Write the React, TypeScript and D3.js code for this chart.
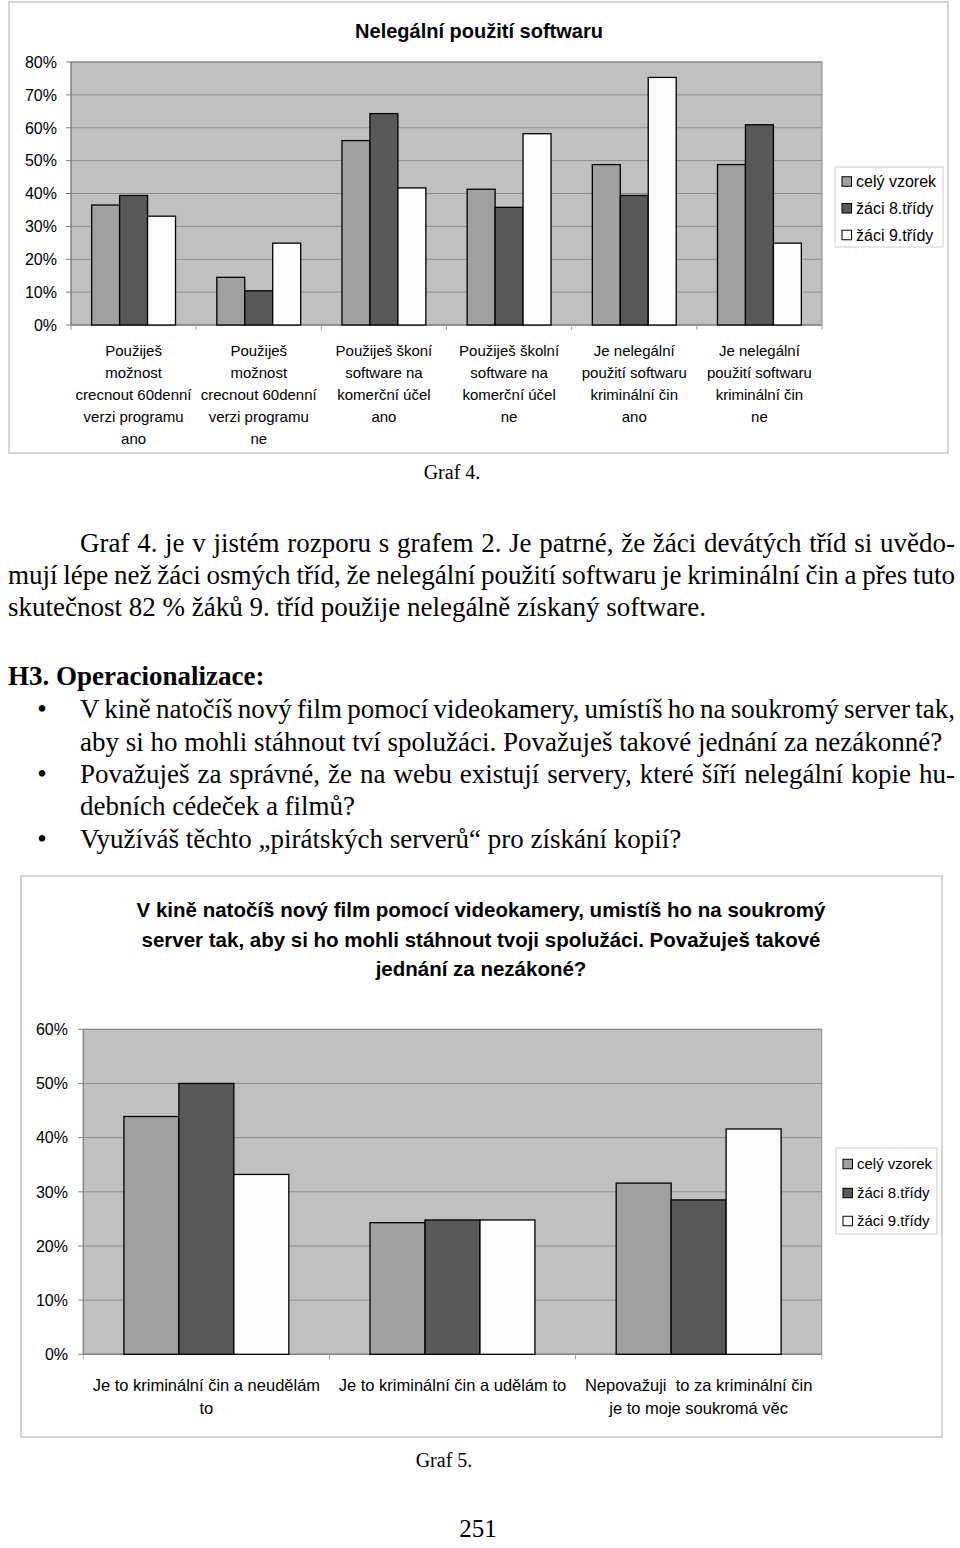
import React, { useEffect, useRef } from "react";
import * as d3 from "d3";

// ---------- data ----------
const SERIES = ["celý vzorek", "žáci 8.třídy", "žáci 9.třídy"];
const SERIES_COLORS = ["#a0a0a0", "#585858", "#fdfdfd"];

const chart1Title = "Nelegální použití softwaru";
const chart1Categories = [
  ["Použiješ", "možnost", "crecnout 60denní", "verzi programu", "ano"],
  ["Použiješ", "možnost", "crecnout 60denní", "verzi programu", "ne"],
  ["Použiješ škoní", "software na", "komerční účel", "ano"],
  ["Použiješ školní", "software na", "komerční účel", "ne"],
  ["Je nelegální", "použití softwaru", "kriminální čin", "ano"],
  ["Je nelegální", "použití softwaru", "kriminální čin", "ne"],
];
const chart1Whole = [0.365, 0.145, 0.561, 0.413, 0.488, 0.488];
const chart1Grade8 = [0.394, 0.104, 0.643, 0.358, 0.394, 0.609];
const chart1Grade9 = [0.331, 0.249, 0.417, 0.582, 0.753, 0.249];
const chart1Ticks = [0, 0.1, 0.2, 0.3, 0.4, 0.5, 0.6, 0.7, 0.8];

const chart2Title = [
  "V kině natočíš nový film pomocí videokamery, umistíš ho na soukromý",
  "server tak, aby si ho mohli stáhnout tvoji spolužáci. Považuješ takové",
  "jednání za nezákoné?",
];
const chart2Categories = [
  ["Je to kriminální čin a neudělám", "to"],
  ["Je to kriminální čin a udělám to"],
  ["Nepovažuji  to za kriminální čin", "je to moje soukromá věc"],
];
const chart2Whole = [0.439, 0.243, 0.316];
const chart2Grade8 = [0.5, 0.248, 0.285];
const chart2Grade9 = [0.332, 0.248, 0.416];
const chart2Ticks = [0, 0.1, 0.2, 0.3, 0.4, 0.5, 0.6];

const caption1 = "Graf 4.";
const caption2 = "Graf 5.";
const pageNumber = "251";

const paragraphLines = [
  { text: "Graf 4. je v jistém rozporu s grafem 2. Je patrné, že žáci devátých tříd si uvědo-", indent: true, justify: true },
  { text: "mují lépe než žáci osmých tříd, že nelegální použití softwaru je kriminální čin a přes tuto", indent: false, justify: true },
  { text: "skutečnost 82 % žáků 9. tříd použije nelegálně získaný software.", indent: false, justify: false },
];
const headingText = "H3. Operacionalizace:";
const bulletLines = [
  { text: "V kině natočíš nový film pomocí videokamery, umístíš ho na soukromý server tak,", bullet: true, justify: true },
  { text: "aby si ho mohli stáhnout tví spolužáci. Považuješ takové jednání za nezákonné?", bullet: false, justify: false },
  { text: "Považuješ za správné, že na webu existují servery, které šíří nelegální kopie hu-", bullet: true, justify: true },
  { text: "debních cédeček a filmů?", bullet: false, justify: false },
  { text: "Využíváš těchto „pirátských serverů“ pro získání kopií?", bullet: true, justify: false },
];

const SANS = "'Liberation Sans', Arial, Helvetica, sans-serif";
const SERIF = "'Liberation Serif', 'Times New Roman', Times, serif";

type ChartOpts = {
  box: [number, number, number, number];
  plot: [number, number, number, number];
  max: number;
  ticks: number[];
  categories: string[][];
  values: number[][];
  yLabelX: number;
  yFont: number;
  xFont: number;
  xLabelY: number;
  xLineH: number;
  legend: { x0: number; y0: number; x1: number; y1: number; rows: number[]; sw: number; tx: number; font: number };
};

function drawChart(svg: d3.Selection<SVGSVGElement, unknown, null, undefined>, o: ChartOpts) {
  const g = svg.append("g");
  g.append("rect")
    .attr("x", o.box[0]).attr("y", o.box[1])
    .attr("width", o.box[2] - o.box[0]).attr("height", o.box[3] - o.box[1])
    .attr("fill", "#fff").attr("stroke", "#c6c6c6").attr("stroke-width", 1.5);

  const n = o.categories.length;
  const x = d3.scaleBand<number>().domain(d3.range(n)).range([o.plot[0], o.plot[2]]).padding(0);
  const bw = x.bandwidth();
  const xs = d3.scaleBand<string>().domain(SERIES).range([bw * 0.165, bw * 0.835]).padding(0);
  const y = d3.scaleLinear().domain([0, o.max]).range([o.plot[3], o.plot[1]]);

  g.append("rect")
    .attr("x", o.plot[0]).attr("y", o.plot[1])
    .attr("width", o.plot[2] - o.plot[0]).attr("height", o.plot[3] - o.plot[1])
    .attr("fill", "#c0c0c0").attr("stroke", "#8a8a8a").attr("stroke-width", 1);

  g.selectAll(".grid").data(o.ticks).enter().append("line")
    .attr("x1", o.plot[0]).attr("x2", o.plot[2])
    .attr("y1", (d) => y(d)).attr("y2", (d) => y(d))
    .attr("stroke", "#8c8c8c").attr("stroke-width", 1);

  // y axis
  g.append("line").attr("x1", o.plot[0]).attr("x2", o.plot[0]).attr("y1", o.plot[1]).attr("y2", o.plot[3])
    .attr("stroke", "#808080");
  g.selectAll(".ytick").data(o.ticks).enter().append("line")
    .attr("x1", o.plot[0] - 5).attr("x2", o.plot[0])
    .attr("y1", (d) => y(d)).attr("y2", (d) => y(d)).attr("stroke", "#808080");
  g.selectAll(".ylab").data(o.ticks).enter().append("text")
    .attr("x", o.yLabelX).attr("y", (d) => y(d)).attr("dy", "0.36em")
    .attr("text-anchor", "end").attr("font-family", SANS).attr("font-size", o.yFont).attr("fill", "#000")
    .text((d) => d3.format(".0%")(d));

  // x axis
  g.append("line").attr("x1", o.plot[0]).attr("x2", o.plot[2]).attr("y1", o.plot[3]).attr("y2", o.plot[3])
    .attr("stroke", "#808080").attr("stroke-width", 1.2);
  const bounds = d3.range(n + 1).map((i) => (i < n ? (x(i) as number) : o.plot[2]));
  g.selectAll(".xtick").data(bounds).enter().append("line")
    .attr("x1", (d) => d).attr("x2", (d) => d).attr("y1", o.plot[3]).attr("y2", o.plot[3] + 5)
    .attr("stroke", "#a0a0a0");

  // bars
  o.values.forEach((vals, si) => {
    g.selectAll(".bar" + si).data(vals).enter().append("rect")
      .attr("x", (_, i) => (x(i) as number) + (xs(SERIES[si]) as number))
      .attr("y", (d) => y(d))
      .attr("width", xs.bandwidth())
      .attr("height", (d) => y(0) - y(d))
      .attr("fill", SERIES_COLORS[si]).attr("stroke", "#000").attr("stroke-width", 1.3);
  });

  // x labels
  o.categories.forEach((lines, i) => {
    const cx = (x(i) as number) + bw / 2;
    const t = g.append("text").attr("font-family", SANS).attr("font-size", o.xFont)
      .attr("text-anchor", "middle").attr("fill", "#000").style("white-space", "pre");
    lines.forEach((ln, j) => {
      t.append("tspan").attr("x", cx).attr("y", o.xLabelY + j * o.xLineH).attr("dy", "0.36em").text(ln);
    });
  });

  // legend
  const L = o.legend;
  g.append("rect").attr("x", L.x0).attr("y", L.y0).attr("width", L.x1 - L.x0).attr("height", L.y1 - L.y0)
    .attr("fill", "#fff").attr("stroke", "#cfcfcf").attr("stroke-width", 1);
  SERIES.forEach((s, i) => {
    g.append("rect").attr("x", L.x0 + 7).attr("y", L.rows[i] - L.sw / 2).attr("width", L.sw).attr("height", L.sw)
      .attr("fill", SERIES_COLORS[i]).attr("stroke", "#000").attr("stroke-width", 1);
    g.append("text").attr("x", L.tx).attr("y", L.rows[i]).attr("dy", "0.36em")
      .attr("font-family", SANS).attr("font-size", L.font).attr("fill", "#000").text(s);
  });
  return g;
}

function justify(sel: d3.Selection<SVGTextElement, unknown, null, undefined>, target: number) {
  const node = sel.node();
  if (!node) return;
  const w = node.getComputedTextLength();
  const text = sel.text();
  const spaces = (text.match(/ /g) || []).length;
  if (spaces === 0) return;
  const extra = (target - w) / spaces;
  sel.attr("word-spacing", extra);
  const w2 = node.getComputedTextLength();
  if (Math.abs(w2 - target) > 3) {
    sel.attr("word-spacing", null);
    sel.attr("textLength", target).attr("lengthAdjust", "spacing");
  }
}

export default function App() {
  const ref = useRef<SVGSVGElement>(null);
  useEffect(() => {
    const svg = d3.select(ref.current as SVGSVGElement);
    svg.selectAll("*").remove();

    // ---- Chart 1 ----
    drawChart(svg, {
      box: [9, 2, 948, 453],
      plot: [71, 62, 822, 325],
      max: 0.8,
      ticks: chart1Ticks,
      categories: chart1Categories,
      values: [chart1Whole, chart1Grade8, chart1Grade9],
      yLabelX: 57,
      yFont: 16,
      xFont: 15,
      xLabelY: 351,
      xLineH: 21.8,
      legend: { x0: 835, y0: 167, x1: 943, y1: 247, rows: [181.5, 208.3, 235], sw: 9.5, tx: 856, font: 16 },
    });
    svg.append("text").attr("x", 479).attr("y", 38).attr("text-anchor", "middle")
      .attr("font-family", SANS).attr("font-weight", "bold").attr("font-size", 20).attr("fill", "#000")
      .text(chart1Title);
    svg.append("text").attr("x", 452).attr("y", 479).attr("text-anchor", "middle")
      .attr("font-family", SERIF).attr("font-size", 20).attr("fill", "#000").text(caption1);

    // ---- Body text ----
    const LEFT = 8;
    const RIGHT = 955;
    const FS = 27;
    const paraBase = [552, 584, 616];
    paragraphLines.forEach((ln, i) => {
      const x0 = ln.indent ? 80 : LEFT;
      const t = svg.append("text").attr("x", x0).attr("y", paraBase[i])
        .attr("font-family", SERIF).attr("font-size", FS).attr("fill", "#000").text(ln.text);
      if (ln.justify) justify(t as any, RIGHT - x0);
    });
    svg.append("text").attr("x", LEFT).attr("y", 685)
      .attr("font-family", SERIF).attr("font-weight", "bold").attr("font-size", FS).attr("fill", "#000")
      .text(headingText);
    const bulletBase = [718, 751, 783, 815, 848];
    bulletLines.forEach((ln, i) => {
      if (ln.bullet) {
        svg.append("text").attr("x", 42).attr("y", bulletBase[i]).attr("text-anchor", "middle")
          .attr("font-family", SERIF).attr("font-size", FS).attr("fill", "#000").text("•");
      }
      const t = svg.append("text").attr("x", 80).attr("y", bulletBase[i])
        .attr("font-family", SERIF).attr("font-size", FS).attr("fill", "#000").text(ln.text);
      if (ln.justify) justify(t as any, RIGHT - 80);
    });

    // ---- Chart 2 ----
    drawChart(svg, {
      box: [21, 876, 942, 1437],
      plot: [83.3, 1029.3, 821.7, 1354.3],
      max: 0.6,
      ticks: chart2Ticks,
      categories: chart2Categories,
      values: [chart2Whole, chart2Grade8, chart2Grade9],
      yLabelX: 68,
      yFont: 16,
      xFont: 16.5,
      xLabelY: 1385,
      xLineH: 23.5,
      legend: { x0: 836, y0: 1148, x1: 937, y1: 1234, rows: [1164, 1193, 1221], sw: 9.5, tx: 857, font: 15 },
    });
    const tt = svg.append("text").attr("text-anchor", "middle")
      .attr("font-family", SANS).attr("font-weight", "bold").attr("font-size", 20.5).attr("fill", "#000");
    chart2Title.forEach((ln, i) => {
      tt.append("tspan").attr("x", 481).attr("y", 910 + i * 29.5).attr("dy", "0.36em").text(ln);
    });
    svg.append("text").attr("x", 444).attr("y", 1467).attr("text-anchor", "middle")
      .attr("font-family", SERIF).attr("font-size", 20).attr("fill", "#000").text(caption2);
    svg.append("text").attr("x", 478).attr("y", 1537).attr("text-anchor", "middle")
      .attr("font-family", SERIF).attr("font-size", 25).attr("fill", "#000").text(pageNumber);
  }, []);

  return (
    <svg
      ref={ref}
      width={960}
      height={1548}
      style={{ position: "absolute", left: 0, top: 0, display: "block", background: "#fff" }}
    />
  );
}
